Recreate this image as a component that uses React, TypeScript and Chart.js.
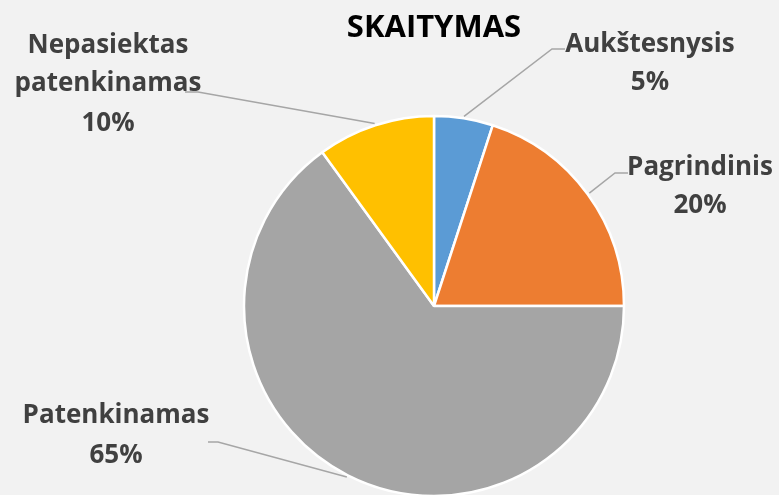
import React, { useEffect, useRef } from "react";
import { Chart, registerables } from "chart.js";

Chart.register(...registerables);

const title = "SKAITYMAS";
const categories = ["Aukštesnysis", "Pagrindinis", "Patenkinamas", "Nepasiektas patenkinamas"];
const values = [5, 20, 65, 10];
const labelLines = [["Aukštesnysis"], ["Pagrindinis"], ["Patenkinamas"], ["Nepasiektas", "patenkinamas"]];
const colors = ["#5B9BD5", "#ED7D31", "#A5A5A5", "#FFC000"];

// label layout: text center x, baselines, elbow and end of leader
const labelLayout = [
  { cx: 650, baselines: [52, 90], elbow: [552, 49], end: [565, 49] },
  { cx: 700, baselines: [175, 213], elbow: [615, 173], end: [628, 173] },
  { cx: 116, baselines: [423, 463], elbow: [218, 442], end: [208, 442] },
  { cx: 108, baselines: [53, 91, 131], elbow: [198, 92], end: [185, 92] },
];

const FONT = "'Open Sans', Lato, sans-serif";

export default function App() {
  const ref = useRef<HTMLCanvasElement | null>(null);
  useEffect(() => {
    if (!ref.current) return;
    const total = values.reduce((a, b) => a + b, 0);
    const labelPlugin = {
      id: "labels",
      beforeDraw(chart: any) {
        const { ctx, width, height } = chart;
        ctx.save();
        ctx.fillStyle = "#f2f2f2";
        ctx.fillRect(0, 0, width, height);
        ctx.restore();
      },
      afterDraw(chart: any) {
        const { ctx } = chart;
        const meta = chart.getDatasetMeta(0);
        ctx.save();
        // title
        ctx.fillStyle = "#000000";
        ctx.font = `bold 31px ${FONT}`;
        ctx.textAlign = "center";
        ctx.textBaseline = "alphabetic";
        ctx.fillText(title, 434, 37);
        meta.data.forEach((arc: any, i: number) => {
          const p = arc.getProps(["x", "y", "startAngle", "endAngle", "outerRadius"], true);
          const mid = (p.startAngle + p.endAngle) / 2;
          const sx = p.x + Math.cos(mid) * (p.outerRadius + 2);
          const sy = p.y + Math.sin(mid) * (p.outerRadius + 2);
          const L = labelLayout[i];
          ctx.strokeStyle = "#a6a6a6";
          ctx.lineWidth = 1.5;
          ctx.beginPath();
          ctx.moveTo(sx, sy);
          ctx.lineTo(L.elbow[0], L.elbow[1]);
          ctx.lineTo(L.end[0], L.end[1]);
          ctx.stroke();
          const pct = Math.round((values[i] / total) * 100) + "%";
          const lines = [...labelLines[i], pct];
          ctx.fillStyle = "#404040";
          ctx.font = `bold 26px ${FONT}`;
          ctx.textAlign = "center";
          lines.forEach((t, j) => ctx.fillText(t, L.cx, L.baselines[j]));
        });
        ctx.restore();
      },
    };
    const chart = new Chart(ref.current, {
      type: "pie",
      data: {
        labels: categories,
        datasets: [
          {
            data: values,
            backgroundColor: colors,
            borderColor: "#ffffff",
            borderWidth: 2.5,
          },
        ],
      },
      options: {
        responsive: false,
        animation: false,
        radius: 190,
        layout: { padding: { top: 117, bottom: 0, left: 89, right: 0 } },
        plugins: { legend: { display: false }, tooltip: { enabled: false }, title: { display: false } },
      },
      plugins: [labelPlugin],
    } as any);
    return () => chart.destroy();
  }, []);
  return (
    <div style={{ position: "fixed", left: 0, top: 0, width: 779, height: 495, background: "#f2f2f2" }}>
      <canvas ref={ref} width={779} height={495} />
    </div>
  );
}
